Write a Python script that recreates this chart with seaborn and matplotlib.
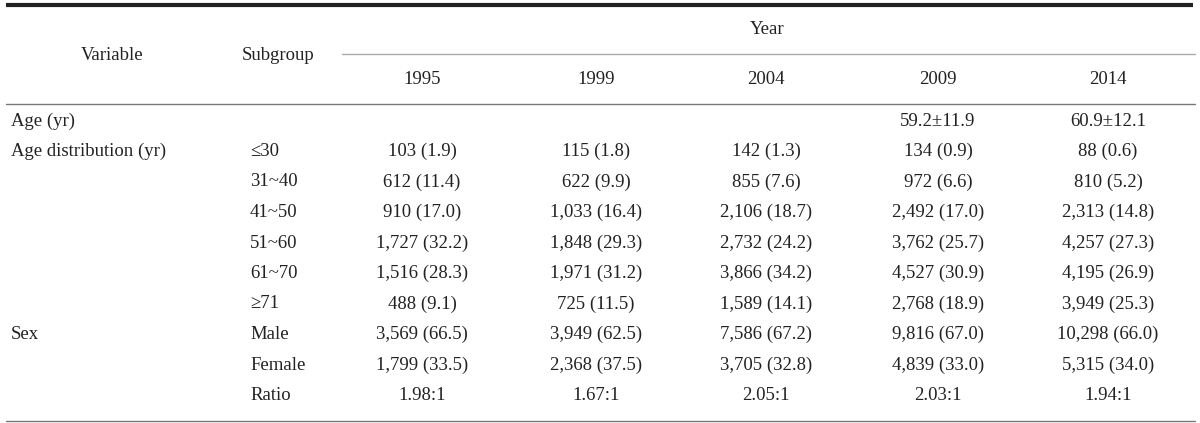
import matplotlib
matplotlib.use("Agg")
import matplotlib.pyplot as plt
import seaborn as sns

sns.set_theme(style="white")
plt.rcParams['font.family'] = ['Liberation Serif', 'DejaVu Serif']

# table content
years = ["1995", "1999", "2004", "2009", "2014"]
variables = ["Age (yr)", "Age distribution (yr)", "", "", "", "", "", "Sex", "", ""]
subgroups = ["", "≤30", "31~40", "41~50", "51~60", "61~70", "≥71", "Male", "Female", "Ratio"]
col_1995 = ["", "103 (1.9)", "612 (11.4)", "910 (17.0)", "1,727 (32.2)", "1,516 (28.3)",
            "488 (9.1)", "3,569 (66.5)", "1,799 (33.5)", "1.98:1"]
col_1999 = ["", "115 (1.8)", "622 (9.9)", "1,033 (16.4)", "1,848 (29.3)", "1,971 (31.2)",
            "725 (11.5)", "3,949 (62.5)", "2,368 (37.5)", "1.67:1"]
col_2004 = ["", "142 (1.3)", "855 (7.6)", "2,106 (18.7)", "2,732 (24.2)", "3,866 (34.2)",
            "1,589 (14.1)", "7,586 (67.2)", "3,705 (32.8)", "2.05:1"]
col_2009 = ["59.2±11.9", "134 (0.9)", "972 (6.6)", "2,492 (17.0)", "3,762 (25.7)", "4,527 (30.9)",
            "2,768 (18.9)", "9,816 (67.0)", "4,839 (33.0)", "2.03:1"]
col_2014 = ["60.9±12.1", "88 (0.6)", "810 (5.2)", "2,313 (14.8)", "4,257 (27.3)", "4,195 (26.9)",
            "3,949 (25.3)", "10,298 (66.0)", "5,315 (34.0)", "1.94:1"]
year_cols = [col_1995, col_1999, col_2004, col_2009, col_2014]

# layout (pixel coordinates)
year_x = [422, 596, 766, 938, 1108]
row_y0, row_dy = 121, 30.5
fs = 13.5

fig = plt.figure(figsize=(12, 4.23), dpi=100)
ax = fig.add_axes([0, 0, 1, 1])
ax.set_xlim(0, 1200)
ax.set_ylim(423, 0)
ax.axis('off')

# rules
ax.plot([6, 1193], [5, 5], color="#222222", lw=3.0, solid_capstyle='butt')
ax.plot([342, 1195], [54, 54], color="#aaaaaa", lw=1.0)
ax.plot([6, 1195], [104, 104], color="#777777", lw=1.0)
ax.plot([6, 1195], [421, 421], color="#777777", lw=1.0)

# header
ax.text(112, 55, "Variable", ha="center", va="center", fontsize=fs, color="#222222")
ax.text(278, 55, "Subgroup", ha="center", va="center", fontsize=fs, color="#222222")
ax.text(767, 30, "Year", ha="center", va="center", fontsize=fs, color="#222222")
for x, yr in zip(year_x, years):
    ax.text(x, 79, yr, ha="center", va="center", fontsize=fs, color="#222222")

# body
for i in range(len(subgroups)):
    y = row_y0 + i * row_dy
    if variables[i]:
        ax.text(11, y, variables[i], ha="left", va="center", fontsize=fs, color="#222222")
    if subgroups[i]:
        ax.text(250, y, subgroups[i], ha="left", va="center", fontsize=fs, color="#222222")
    for x, col in zip(year_x, year_cols):
        if col[i]:
            ax.text(x, y, col[i], ha="center", va="center", fontsize=fs, color="#222222")

fig.savefig("out.png", dpi=100)
